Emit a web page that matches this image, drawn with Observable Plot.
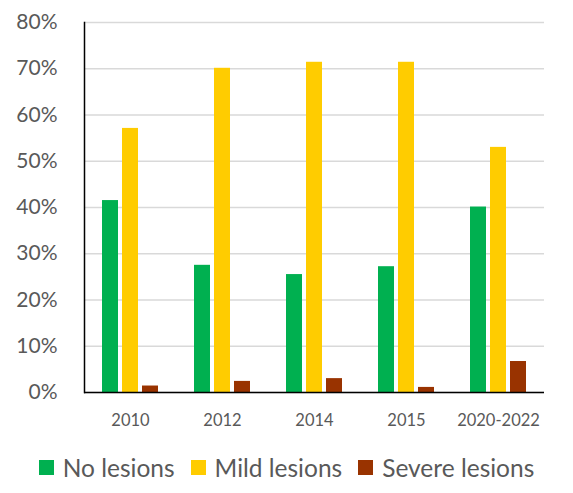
<!DOCTYPE html>
<html>
<head>
<meta charset="utf-8">
<script src="https://cdn.jsdelivr.net/npm/d3@7"></script>
<script src="https://cdn.jsdelivr.net/npm/@observablehq/plot@0.6"></script>
<style>
  body { margin: 0; background: #fff; font-family: Lato, "Open Sans", sans-serif; }
  #legend { display: flex; justify-content: center; align-items: center; height: 28px; margin-top: 13px; font-size: 24.5px; color: #595959; }
  #legend .item { display: flex; align-items: center; margin: 0 8px; }
  #legend .sw { width: 15px; height: 15px; margin-right: 9px; }
</style>
</head>
<body>
<div id="chart"></div>
<div id="legend"></div>
<script>
const years = ["2010", "2012", "2014", "2015", "2020-2022"];
const series = ["No lesions", "Mild lesions", "Severe lesions"];
const colors = ["#00B050", "#FFCC00", "#993300"];
const noLesions = [41.5, 27.5, 25.5, 27.2, 40.1];
const mildLesions = [57.1, 70.1, 71.4, 71.4, 53.0];
const severeLesions = [1.4, 2.4, 3.0, 1.1, 6.7];
const yTicks = [0, 10, 20, 30, 40, 50, 60, 70, 80];

const valuesBySeries = [noLesions, mildLesions, severeLesions];
const data = [];
years.forEach((y, i) => {
  series.forEach((s, j) => data.push({year: y, series: s, value: valuesBySeries[j][i]}));
});

const chart = Plot.plot({
  width: 573,
  height: 440,
  marginLeft: 82,
  marginRight: 27,
  marginTop: 22,
  marginBottom: 48,
  style: {fontFamily: "Lato, 'Open Sans', sans-serif", background: "#fff"},
  fx: {domain: years, padding: 0, label: null},
  x: {domain: series, paddingInner: 0.22, paddingOuter: 0.874, axis: null},
  y: {domain: [0, 80], label: null},
  color: {domain: series, range: colors},
  marks: [
    Plot.gridY(yTicks, {stroke: "#d9d9d9", strokeOpacity: 1, strokeWidth: 1.5}),
    Plot.barY(data, {fx: "year", x: "series", y: "value", fill: "series"}),
    Plot.ruleY([0], {stroke: "#000", strokeWidth: 1.5}),
    Plot.frame({anchor: "left", facetAnchor: "left", stroke: "#000", strokeWidth: 1.5}),
    Plot.axisY(yTicks, {tickSize: 0, tickPadding: 27, tickFormat: d => d + "%", fontSize: 21, fill: "#595959", label: null}),
    Plot.axisFx({anchor: "bottom", tickSize: 0, tickPadding: 22, fontSize: 16.5, fill: "#595959", label: null})
  ]
});
document.getElementById("chart").appendChild(chart);

const legend = document.getElementById("legend");
series.forEach((s, j) => {
  const item = document.createElement("div");
  item.className = "item";
  const sw = document.createElement("span");
  sw.className = "sw";
  sw.style.background = chart.scale("color").apply(s);
  const t = document.createElement("span");
  t.textContent = s;
  item.appendChild(sw);
  item.appendChild(t);
  legend.appendChild(item);
});
</script>
</body>
</html>
